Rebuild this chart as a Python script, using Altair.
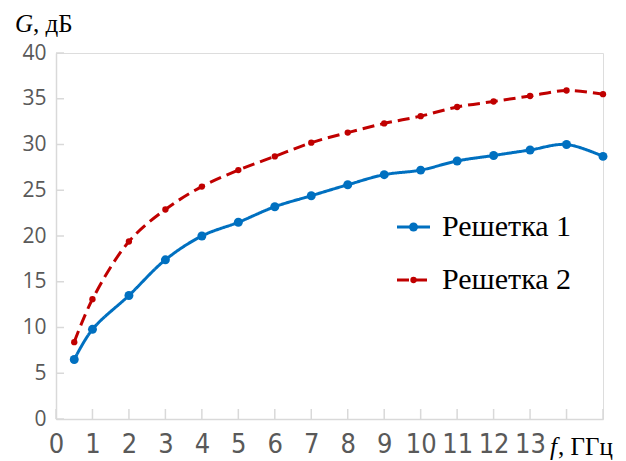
import altair as alt
import pandas as pd

freq = [0.5, 1, 2, 3, 4, 5, 6, 7, 8, 9, 10, 11, 12, 13, 14, 15]
g1 = [6.5, 9.8, 13.5, 17.4, 20.0, 21.5, 23.2, 24.4, 25.6, 26.7, 27.2, 28.2, 28.8, 29.4, 30.0, 28.7]
g2 = [8.4, 13.1, 19.4, 22.9, 25.4, 27.2, 28.7, 30.2, 31.3, 32.3, 33.1, 34.1, 34.7, 35.3, 35.9, 35.5]
series = ["Решетка 1", "Решетка 2"]
colors = ["#0070C0", "#C00000"]
x_ticks = list(range(0, 16))
y_ticks = list(range(0, 45, 5))

W, H = 547, 366
AXIS_GRAY = "#D9D9D9"
LABEL_GRAY = "#595959"

df = pd.DataFrame({
    "f": freq * 2,
    "G": g1 + g2,
    "s": [series[0]] * len(freq) + [series[1]] * len(freq),
})

xs = alt.Scale(domain=[0, 15], nice=False, zero=True)
ys = alt.Scale(domain=[0, 40], nice=False)

x_axis = alt.Axis(
    values=x_ticks, ticks=False, grid=False, title=None,
    labelExpr="datum.value <= 13 ? datum.label : ''",
    labelFont="Liberation Sans Narrow, DejaVu Sans Condensed, sans-serif",
    labelFontSize=27, labelColor=LABEL_GRAY, labelPadding=12,
    domainColor=AXIS_GRAY, domainWidth=1.5, labelFlush=False,
)
y_axis = alt.Axis(
    values=y_ticks, ticks=False, grid=False, title=None,
    labelFont="Open Sans, sans-serif", labelFontSize=21,
    labelColor=LABEL_GRAY, labelPadding=10,
    domainColor=AXIS_GRAY, domainWidth=1.5,
)


def X(field):
    return alt.X(field, type="quantitative", scale=xs, axis=x_axis)


def Y(field):
    return alt.Y(field, type="quantitative", scale=ys, axis=y_axis)


base = alt.Chart(df)

axes = base.mark_point(opacity=0).encode(x=X("f"), y=Y("G"))

xt = alt.Chart(pd.DataFrame({"t": x_ticks})).mark_rule(color=AXIS_GRAY, strokeWidth=1.5).encode(
    x=X("t"), y=alt.value(H), y2=alt.value(H - 10),
)
yt = alt.Chart(pd.DataFrame({"t": y_ticks})).mark_rule(color=AXIS_GRAY, strokeWidth=1.5).encode(
    y=Y("t"), x=alt.value(0), x2=alt.value(8),
)

layers = [axes, xt, yt]

dashes = [[1, 0], [12, 6]]
sizes = [80, 40]
for i, s in enumerate(series):
    d = df[df["s"] == s]
    c = alt.Chart(d)
    layers.append(c.mark_line(color=colors[i], strokeWidth=3, interpolate="catmull-rom",
                              strokeDash=dashes[i]).encode(x=X("f"), y=Y("G")))
    layers.append(c.mark_point(color=colors[i], filled=True, size=sizes[i], opacity=1).encode(
        x=X("f"), y=Y("G")))
    # legend
    ly = 174 + i * 53
    ld = alt.Chart(pd.DataFrame({"s": [s]}))
    layers.append(ld.mark_rule(color=colors[i], strokeWidth=3, strokeDash=dashes[i]).encode(
        x=alt.value(341), x2=alt.value(374), y=alt.value(ly)))
    layers.append(ld.mark_point(color=colors[i], filled=True, size=sizes[i], opacity=1).encode(
        x=alt.value(357.5), y=alt.value(ly)))
    layers.append(ld.mark_text(align="left", baseline="middle", font="Liberation Serif",
                               fontSize=30, color="#000000").encode(
        x=alt.value(386), y=alt.value(ly), text="s:N"))

# axis titles
tt = alt.Chart(pd.DataFrame({"a": ["G"], "b": [", дБ"], "c": ["f"], "d": [", ГГц"]}))
layers.append(tt.mark_text(align="left", baseline="alphabetic", font="Liberation Serif",
                           fontSize=25, fontStyle="italic", color="#000000").encode(
    x=alt.value(-41), y=alt.value(-21), text="a:N"))
layers.append(tt.mark_text(align="left", baseline="alphabetic", font="Liberation Serif",
                           fontSize=25, color="#000000").encode(
    x=alt.value(-23), y=alt.value(-21), text="b:N"))
layers.append(tt.mark_text(align="left", baseline="alphabetic", font="Liberation Serif",
                           fontSize=25, fontStyle="italic", color="#000000").encode(
    x=alt.value(494), y=alt.value(402), text="c:N"))
layers.append(tt.mark_text(align="left", baseline="alphabetic", font="Liberation Serif",
                           fontSize=25, color="#000000").encode(
    x=alt.value(502), y=alt.value(402), text="d:N"))

chart = alt.layer(*layers).properties(
    width=W, height=H,
    padding={"left": 48, "top": 45, "right": 15, "bottom": 48},
    autosize=alt.AutoSizeParams(type="none"),
).configure_view(stroke=None).configure(background="white")

chart.save("out.html", embed_options={"renderer": "svg", "actions": False})
